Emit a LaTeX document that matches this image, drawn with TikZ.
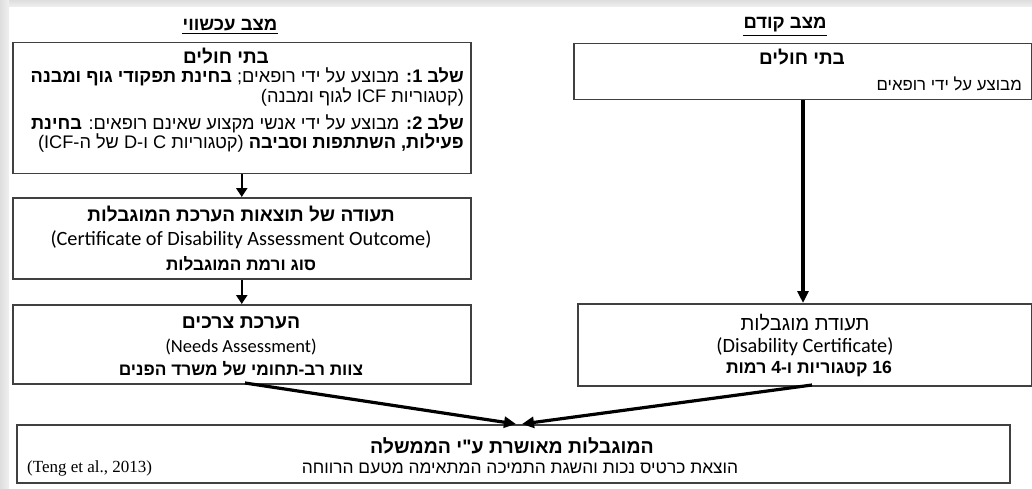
\documentclass[tikz,border=0pt]{standalone}
\usepackage{fontspec}
\setmainfont{Liberation Sans}
\newfontfamily\heb[Script=Hebrew]{Liberation Sans}
\newfontfamily\calib{Carlito}
\newfontfamily\tms{Liberation Serif}
\TeXXeTstate=1
\usetikzlibrary{arrows.meta}
\newcommand\rtl[1]{\beginR #1\endR}
\newcommand\ltr[1]{\beginL #1\endL}
\newcommand\fs[1]{\fontsize{#1}{#1}\selectfont}
\definecolor{boxc}{HTML}{404040}
\tikzset{
  box/.style={draw=boxc, line width=1.5pt, inner sep=0, anchor=north west},
  lbl/.style={inner sep=0, text=black},
  title/.style={lbl, font=\heb\bfseries\fs{18.5}},
  head/.style={lbl, font=\heb\bfseries\fs{19}},
  body/.style={lbl, font=\heb\fs{18.2}, anchor=east},
  eng/.style={lbl, font=\calib\fs{20.3}},
  small/.style={lbl, font=\heb\bfseries\fs{17.3}},
  sarr/.style={line width=2.2pt, -{Triangle[width=11pt,length=9pt]}},
  larr/.style={line width=3.2pt, -{Triangle[width=11pt,length=12pt]}},
}
\begin{document}
\begin{tikzpicture}[x=1pt,y=-1pt]
\useasboundingbox (0,0) rectangle (1032,489);
\fill[white] (0,0) rectangle (1032,489);
\shade[top color=black!13, bottom color=black!6] (0,0) rectangle (1032,7);
\shade[left color=black!13, right color=black!6] (0,0) rectangle (9,489);

% titles
\node[title] (t1) at (230,25) {\rtl{מצב עכשווי}};
\draw[line width=1pt] ([yshift=-2.5pt]t1.south west) -- ([yshift=-2.5pt]t1.south east);
\node[title] (t2) at (785,25) {\rtl{מצב קודם}};
\draw[line width=1pt] ([yshift=-2.5pt]t2.south west) -- ([yshift=-2.5pt]t2.south east);

% left column boxes
\node[box, minimum width=458pt, minimum height=131pt] (b1) at (12,42) {};
\node[box, minimum width=458pt, minimum height=81pt] (b2) at (12,197) {};
\node[box, minimum width=458pt, minimum height=79pt] (b3) at (12,304) {};
% right column boxes
\node[box, minimum width=458pt, minimum height=56pt] (r1) at (573,43) {};
\node[box, minimum width=454pt, minimum height=82pt] (r2) at (577,303) {};
% bottom box
\node[box, minimum width=993pt, minimum height=58pt] (bt) at (16,424) {};

% b1 text
\node[head] (b1h) at (226,56) {\rtl{בתי חולים}};
\node[body] (b1l1) at (464,77) {\rtl{\textbf{שלב \ltr{1}:} מבוצע על ידי רופאים; \textbf{בחינת תפקודי גוף ומבנה}}};
\node[body] (b1l2) at (464,97) {\rtl{(קטגוריות \ltr{ICF} לגוף ומבנה)}};
\node[body] (b1l3) at (464,124) {\rtl{\textbf{שלב \ltr{2}:} מבוצע על ידי אנשי מקצוע שאינם רופאים: \textbf{בחינת}}};
\node[body] (b1l4) at (464,143) {\rtl{\textbf{פעילות, השתתפות וסביבה} (קטגוריות \ltr{C} ו-\ltr{D} של ה-\ltr{ICF})}};

% b2 text
\node[head] (b2h) at (241,214) {\rtl{תעודה של תוצאות הערכת המוגבלות}};
\node[eng] (b2e) at (241,240) {(Certificate of Disability Assessment Outcome)};
\node[lbl, font=\heb\bfseries\fs{17.2}] (b2s) at (241,264) {\rtl{סוג ורמת המוגבלות}};

% b3 text
\node[lbl, font=\heb\bfseries\fs{19.4}] (b3h) at (241,323) {\rtl{הערכת צרכים}};
\node[lbl, font=\calib\fs{18.5}] (b3e) at (241,347) {(Needs Assessment)};
\node[small] (b3s) at (241,369) {\rtl{צוות רב-תחומי של משרד הפנים}};

% r1 text
\node[head] (r1h) at (802,57) {\rtl{בתי חולים}};
\node[body, font=\heb\fs{16.8}] (r1l) at (1022,84) {\rtl{מבוצע על ידי רופאים}};

% r2 text
\node[lbl, font=\heb\fs{20}] (r2h) at (805,323) {\rtl{תעודת מוגבלות}};
\node[lbl, font=\calib\fs{20.3}] (r2e) at (805,347) {(Disability Certificate)};
\node[small, font=\heb\bfseries\fs{17.6}] (r2s) at (809,369) {\rtl{\ltr{16} קטגוריות ו-\ltr{4} רמות}};

% bottom text
\node[lbl, font=\heb\bfseries\fs{19.5}] (bth) at (512,446) {\rtl{המוגבלות מאושרת ע"י הממשלה}};
\node[lbl, font=\heb\fs{17.4}] (btl) at (520,468) {\rtl{הוצאת כרטיס נכות והשגת התמיכה המתאימה מטעם הרווחה}};
\node[lbl, font=\tms\fs{17}, anchor=west] (ref) at (27,468) {(Teng et al., 2013)};

% arrows
\draw[sarr] (b1.south) -- (b2.north);
\draw[sarr] (b2.south) -- (b3.north);
\draw[larr] (r1.south -| 803,0) -- (r2.north -| 803,0);
\coordinate (m1) at (516,424);
\coordinate (m2) at (522,424);
\coordinate (s1) at (245,383);
\coordinate (s2) at (812,385);
\draw[larr] (s1) -- (m1);
\draw[larr] (s2) -- (m2);
\end{tikzpicture}
\end{document}
